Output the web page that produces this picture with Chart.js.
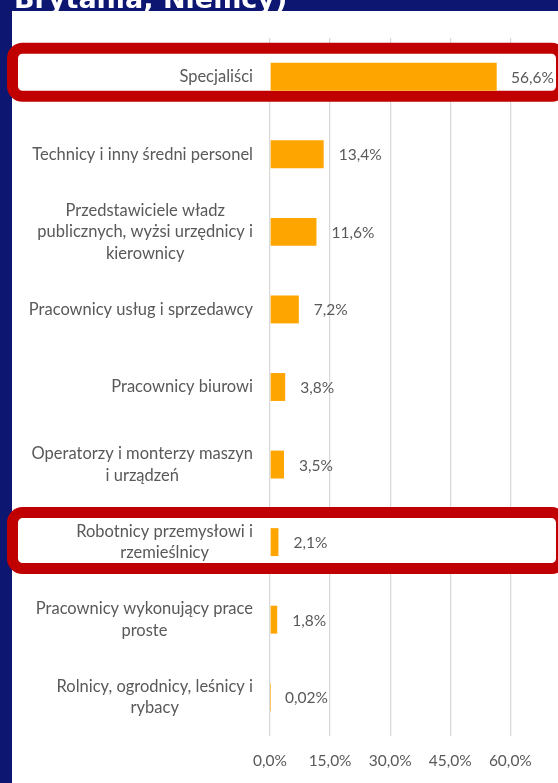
<!DOCTYPE html>
<html>
<head>
<meta charset="utf-8">
<script src="https://cdn.jsdelivr.net/npm/chart.js@4.4.1/dist/chart.umd.min.js"></script>
<style>
html, body { margin: 0; padding: 0; background: #0d1671; overflow: hidden; }
#wrap { position: relative; width: 558px; height: 783px; }
</style>
</head>
<body>
<div id="wrap"><canvas id="chart_zawody" width="558" height="783"></canvas></div>
<script>
// dane
var kategorie = [
	["Specjaliści"],
	["Technicy i inny średni personel"],
	["Przedstawiciele władz", "publicznych, wyżsi urzędnicy i", "kierownicy"],
	["Pracownicy usług i sprzedawcy"],
	["Pracownicy biurowi"],
	["Operatorzy i monterzy maszyn", "i urządzeń"],
	["Robotnicy przemysłowi i", "rzemieślnicy"],
	["Pracownicy wykonujący prace", "proste"],
	["Rolnicy, ogrodnicy, leśnicy i", "rybacy"]
];
var wartosci = [56.6, 13.4, 11.6, 7.2, 3.8, 3.5, 2.1, 1.8, 0.02];
var ticksX = [0, 15, 30, 45, 60];
var tytul = "Brytania, Niemcy)";

// wyroznione wiersze (ramki)
var ramki = [
	{ idx: 0, up: 34, down: 25 },
	{ idx: 6, up: 35, down: 32 }
];

var font = '"Lato", "Open Sans", sans-serif';
var szary = "#595959";

function fmt(v) {
	return v.toFixed(v < 0.1 ? 2 : 1).replace(".", ",") + "%";
}

/* tlo + tytul */
var tloPlugin = {
	id: "tlo",
	beforeDraw: function(chart) {
		var ctx = chart.ctx;
		ctx.save();
		ctx.fillStyle = "#ffffff";
		ctx.fillRect(12, 11, chart.width - 12, chart.height - 11);
		ctx.font = 'bold 27px "DejaVu Sans", sans-serif';
		ctx.textBaseline = "alphabetic";
		ctx.fillText(tytul, 14, 8);
		ctx.restore();
	}
};

/* czerwone ramki pod slupkami */
var ramkiPlugin = {
	id: "ramki",
	beforeDatasetsDraw: function(chart) {
		var ctx = chart.ctx;
		var y = chart.scales.y;
		ctx.save();
		ramki.forEach(function(r) {
			var c = y.getPixelForValue(r.idx);
			var top = c - r.up + 5.5;
			var h = r.up + r.down - 11;
			ctx.beginPath();
			ctx.roundRect(12.5, top, 549, h, 10);
			ctx.fillStyle = "#ffffff";
			ctx.fill();
			ctx.lineWidth = 11;
			ctx.strokeStyle = "#c00000";
			ctx.stroke();
		});
		ctx.restore();
	}
};

/* etykiety kategorii i wartosci */
var etykietyPlugin = {
	id: "etykiety",
	afterDatasetsDraw: function(chart) {
		var ctx = chart.ctx;
		var y = chart.scales.y;
		var x = chart.scales.x;
		var area = chart.chartArea;
		ctx.save();
		ctx.fillStyle = szary;
		ctx.font = "16.5px " + font;
		ctx.textBaseline = "middle";
		kategorie.forEach(function(lines, i) {
			var c = y.getPixelForValue(i);
			var lh = 21.5;
			var maxW = 0;
			lines.forEach(function(l) { maxW = Math.max(maxW, ctx.measureText(l).width); });
			var cx = area.left - 17 - maxW / 2;
			ctx.textAlign = "center";
			lines.forEach(function(l, k) {
				ctx.fillText(l, cx, c - (lines.length - 1) * lh / 2 + k * lh);
			});
		});
		ctx.font = "15.5px " + font;
		ctx.textAlign = "left";
		wartosci.forEach(function(v, i) {
			var t = fmt(v);
			var w = ctx.measureText(t).width;
			var px = x.getPixelForValue(v) + 15;
			px = Math.min(px, area.right - w - 4);
			ctx.fillText(t, px, y.getPixelForValue(i) + 1);
		});
		ctx.restore();
	}
};

var ctx = document.getElementById("chart_zawody").getContext("2d");
var myChart = new Chart(ctx, {
	type: "bar",
	data: {
		labels: kategorie,
		datasets: [{
			data: wartosci,
			backgroundColor: "#ffa500",
			categoryPercentage: 0.6,
			barPercentage: 0.6
		}]
	},
	options: {
		indexAxis: "y",
		responsive: false,
		devicePixelRatio: 1,
		animation: false,
		layout: { padding: { left: 270, top: 38, right: 0, bottom: 0 } },
		plugins: {
			legend: { display: false },
			tooltip: { enabled: false }
		},
		scales: {
			y: { display: false },
			x: {
				position: "bottom",
				min: 0,
				max: 71.9,
				afterFit: function(s) { s.height = 47; },
				afterBuildTicks: function(s) {
					s.ticks = ticksX.map(function(v) { return { value: v }; });
				},
				grid: { color: "#d9d9d9", lineWidth: 1.3, drawTicks: false },
				border: { display: false },
				ticks: {
					padding: 16,
					color: szary,
					font: { family: font, size: 15.5 },
					callback: function(v) { return v.toFixed(1).replace(".", ",") + "%"; }
				}
			}
		}
	},
	plugins: [tloPlugin, ramkiPlugin, etykietyPlugin]
});
</script>
</body>
</html>
